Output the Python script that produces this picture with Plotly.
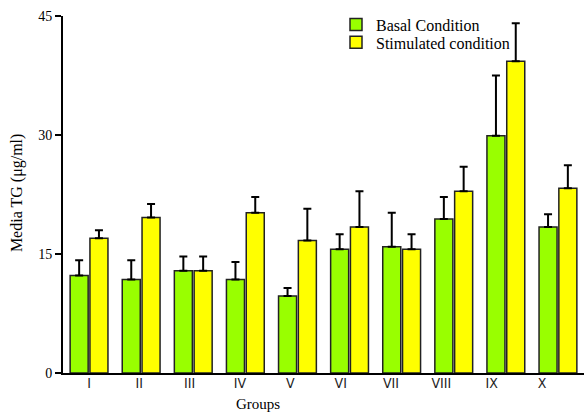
import plotly.graph_objects as go

groups = ["I", "II", "III", "IV", "V", "VI", "VII", "VIII", "IX", "X"]
basal = [12.3, 11.8, 12.9, 11.8, 9.7, 15.6, 15.9, 19.4, 29.9, 18.4]
basal_err = [1.9, 2.4, 1.8, 2.2, 1.0, 1.9, 4.3, 2.8, 7.6, 1.6]
stim = [17.0, 19.6, 12.9, 20.2, 16.7, 18.4, 15.6, 22.9, 39.3, 23.3]
stim_err = [1.0, 1.7, 1.8, 2.0, 4.0, 4.5, 1.9, 3.1, 4.8, 2.9]
y_ticks = [0, 15, 30, 45]

SERIF = "Liberation Serif"
NARROW = "Liberation Sans Narrow, Arial Narrow, DejaVu Sans Condensed, Liberation Sans"
W, H = 588, 413
L, R, T, B = 63, 4, 15.5, 39.7
pw = W - L - R
ph = H - T - B


def py(px):
    """pixel row (from top of figure) -> paper y"""
    return (H - B - px) / ph


def px_(x):
    return (x - L) / pw


fig = go.Figure()
fig.add_trace(go.Bar(
    x=groups, y=basal, name="Basal Condition", legend="legend",
    marker=dict(color="#99FF00", line=dict(color="#222222", width=1.5)),
    error_y=dict(type="data", array=basal_err, arrayminus=[0] * len(basal_err),
                 symmetric=False, color="black", thickness=2, width=4),
))
fig.add_trace(go.Bar(
    x=groups, y=stim, name="Stimulated condition", legend="legend2",
    marker=dict(color="#FFFF00", line=dict(color="#222222", width=1.5)),
    error_y=dict(type="data", array=stim_err, arrayminus=[0] * len(stim_err),
                 symmetric=False, color="black", thickness=2, width=4),
))

# overlay axis used only to place the group labels (slightly tighter spacing than bars)
label_pos = list(range(len(groups)))
first_px, last_px = 89 - L, 542 - L
span = (len(groups) - 1) * pw / (last_px - first_px)
r0 = -first_px * span / pw
fig.add_trace(go.Scatter(
    x=label_pos, y=[0] * len(groups), xaxis="x2", mode="markers",
    marker=dict(opacity=0), showlegend=False, hoverinfo="skip",
))

leg_common = dict(xanchor="left", yanchor="middle", bgcolor="rgba(0,0,0,0)",
                  font=dict(family=SERIF, size=16), itemwidth=30)

fig.update_layout(
    width=W, height=H,
    margin=dict(l=L, r=R, t=T, b=B, pad=0),
    plot_bgcolor="white", paper_bgcolor="white",
    barmode="group", bargap=0.24, bargroupgap=0.09,
    font=dict(family=SERIF, size=14, color="black"),
    showlegend=True,
    legend=dict(x=px_(336), y=py(24), **leg_common),
    legend2=dict(x=px_(336), y=py(42), **leg_common),
    xaxis=dict(type="category", range=[-0.5, len(groups) - 0.5],
               showline=True, linecolor="black", linewidth=2,
               showticklabels=False, ticks="", showgrid=False, zeroline=False),
    xaxis2=dict(overlaying="x", side="bottom", range=[r0, r0 + span],
                tickvals=label_pos, ticktext=groups, showline=False, ticks="",
                showgrid=False, zeroline=False,
                tickfont=dict(family=NARROW, size=14, color="#222222")),
    yaxis=dict(range=[0, 45], tickvals=y_ticks, showline=True, linecolor="black",
               linewidth=2, ticks="outside", ticklen=6, tickwidth=2, tickcolor="black",
               showgrid=False, zeroline=False, tickfont=dict(family=SERIF, size=14)),
    annotations=[
        dict(text="Media TG (μg/ml)", xref="paper", yref="paper",
             x=px_(17), y=py(193), textangle=-90, showarrow=False,
             font=dict(family=SERIF, size=16), xanchor="center", yanchor="middle"),
        dict(text="Groups", xref="paper", yref="paper",
             x=px_(258), y=py(404), showarrow=False,
             font=dict(family=SERIF, size=15), xanchor="center", yanchor="middle"),
    ],
)

fig.write_html("out.html", config={"displayModeBar": False},
               post_script="document.body.style.margin='0';")
